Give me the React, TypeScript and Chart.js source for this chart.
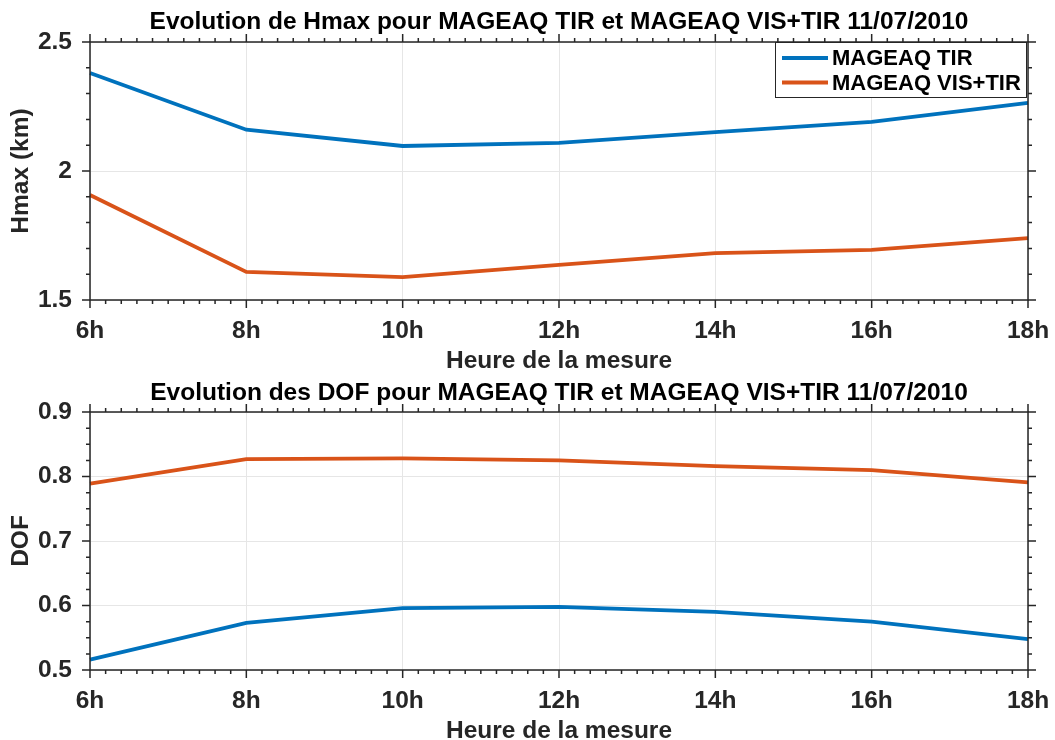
import React, { useEffect, useRef } from "react";
import { Chart, registerables } from "chart.js";

Chart.register(...registerables);

// ---- data ----
const hours = ["6h", "8h", "10h", "12h", "14h", "16h", "18h"];
const seriesLabels = ["MAGEAQ TIR", "MAGEAQ VIS+TIR"];
const hmaxTIR = [2.38, 2.16, 2.097, 2.109, 2.151, 2.19, 2.264];
const hmaxVisTir = [1.907, 1.609, 1.589, 1.636, 1.682, 1.694, 1.74];
const dofTIR = [0.516, 0.573, 0.596, 0.598, 0.59, 0.575, 0.548];
const dofVisTir = [0.789, 0.827, 0.828, 0.825, 0.816, 0.81, 0.791];
const titleTop = "Evolution de Hmax pour MAGEAQ TIR et MAGEAQ VIS+TIR 11/07/2010";
const titleBottom = "Evolution des DOF pour MAGEAQ TIR et MAGEAQ VIS+TIR 11/07/2010";
const xTitle = "Heure de la mesure";
const yTitleTop = "Hmax (km)";
const yTitleBottom = "DOF";

const BLUE = "#0072BD";
const ORANGE = "#D95319";
const AXIS = "#262626";
const FONT = "'Liberation Sans', Arial, Helvetica, sans-serif";

const frameTicks = {
  id: "frameTicks",
  afterDatasetsDraw(chart: any, _args: any, opts: any) {
    const { ctx, chartArea } = chart;
    const { left, right, top, bottom } = chartArea;
    const xs = chart.scales.x;
    const ys = chart.scales.y;
    ctx.save();
    ctx.strokeStyle = AXIS;
    ctx.lineWidth = 1.5;
    ctx.beginPath();
    ctx.rect(left, top, right - left, bottom - top);
    ctx.stroke();
    ctx.beginPath();
    const MAJ = 8;
    const MIN = 4;
    const n = xs.ticks.length;
    for (let i = 0; i < n; i++) {
      const p = xs.getPixelForTick(i);
      ctx.moveTo(p, bottom);
      ctx.lineTo(p, bottom + MAJ);
      ctx.moveTo(p, top);
      ctx.lineTo(p, top - MAJ);
      if (i < n - 1) {
        const q = xs.getPixelForTick(i + 1);
        const sub = opts.xSub || 10;
        for (let k = 1; k < sub; k++) {
          const m = p + ((q - p) * k) / sub;
          ctx.moveTo(m, bottom);
          ctx.lineTo(m, bottom + MIN);
          ctx.moveTo(m, top);
          ctx.lineTo(m, top - MIN);
        }
      }
    }
    const minStep = opts.yMinor;
    const majStep = opts.yMajor;
    const steps = Math.round((ys.max - ys.min) / minStep);
    for (let k = 0; k <= steps; k++) {
      const v = ys.min + k * minStep;
      const py = ys.getPixelForValue(v);
      const r = (v - ys.min) / majStep;
      const isMaj = Math.abs(r - Math.round(r)) < 1e-6;
      const len = isMaj ? MAJ : MIN;
      ctx.moveTo(left, py);
      ctx.lineTo(left - len, py);
      ctx.moveTo(right, py);
      ctx.lineTo(right + len, py);
    }
    ctx.stroke();
    ctx.restore();
  },
  afterDraw(chart: any, _args: any, opts: any) {
    if (!opts.legend) return;
    const { ctx, chartArea } = chart;
    const w = 252;
    const h = 56;
    const x = chartArea.right - 1 - w;
    const y = chartArea.top;
    ctx.save();
    ctx.fillStyle = "#ffffff";
    ctx.fillRect(x, y, w, h);
    ctx.strokeStyle = AXIS;
    ctx.lineWidth = 1;
    ctx.strokeRect(x + 0.5, y + 0.5, w - 1, h - 1);
    ctx.font = `bold 22px ${FONT}`;
    ctx.textBaseline = "middle";
    ctx.textAlign = "left";
    chart.data.datasets.forEach((ds: any, i: number) => {
      const cy = y + 16 + i * 24.5;
      ctx.strokeStyle = ds.borderColor;
      ctx.lineWidth = 3.8;
      ctx.beginPath();
      ctx.moveTo(x + 7, cy);
      ctx.lineTo(x + 53, cy);
      ctx.stroke();
      ctx.fillStyle = "#000000";
      ctx.fillText(ds.label, x + 57, cy + 1);
    });
    ctx.restore();
  },
};

function makeConfig(
  title: string,
  yTitle: string,
  a: number[],
  b: number[],
  yMin: number,
  yMax: number,
  yStep: number,
  yMinor: number,
  legend: boolean,
  titlePadTop: number
) {
  return {
    type: "line",
    data: {
      labels: hours,
      datasets: [
        {
          label: seriesLabels[0],
          data: a,
          borderColor: BLUE,
          backgroundColor: BLUE,
          borderWidth: 3.8,
          pointRadius: 0,
          tension: 0,
        },
        {
          label: seriesLabels[1],
          data: b,
          borderColor: ORANGE,
          backgroundColor: ORANGE,
          borderWidth: 3.8,
          pointRadius: 0,
          tension: 0,
        },
      ],
    },
    options: {
      responsive: false,
      animation: false,
      layout: { padding: { left: 0, right: 27, top: 0, bottom: 0 } },
      plugins: {
        legend: { display: false },
        tooltip: { enabled: false },
        title: {
          display: true,
          text: title,
          fullSize: false,
          color: "#000000",
          font: { family: FONT, size: 24.5, weight: "bold", lineHeight: 1.2 },
          padding: { top: titlePadTop, bottom: 12.6 - titlePadTop },
        },
        frameTicks: { xSub: 10, yMinor, yMajor: yStep, legend },
      },
      scales: {
        x: {
          type: "category",
          offset: false,
          grid: { display: true, color: "#e6e6e6", lineWidth: 1, drawTicks: false, offset: false },
          border: { display: false },
          ticks: {
            color: AXIS,
            padding: 17,
            maxRotation: 0,
            autoSkip: false,
            font: { family: FONT, size: 24.5, weight: "bold" },
          },
          title: {
            display: true,
            text: xTitle,
            color: AXIS,
            font: { family: FONT, size: 24.5, weight: "bold", lineHeight: 0.75 },
            padding: { top: 0, bottom: 0 },
          },
          afterFit: (s: any) => {
            s.height = 70;
            s.paddingRight = 0;
            s.paddingLeft = 0;
          },
        },
        y: {
          type: "linear",
          min: yMin,
          max: yMax,
          grid: { display: true, color: "#e6e6e6", lineWidth: 1, drawTicks: false },
          border: { display: false },
          ticks: {
            stepSize: yStep,
            color: AXIS,
            padding: 18,
            font: { family: FONT, size: 24.5, weight: "bold" },
            callback: (v: any) => String(Number(Number(v).toFixed(3))),
          },
          title: {
            display: true,
            text: yTitle,
            color: AXIS,
            font: { family: FONT, size: 24.5, weight: "bold", lineHeight: 0.75 },
            padding: { top: 12, bottom: 0 },
          },
          afterFit: (s: any) => {
            s.width = 90;
            s.paddingTop = 0;
            s.paddingBottom = 0;
          },
        },
      },
    },
    plugins: [frameTicks],
  } as any;
}

function Panel(props: { config: any }) {
  const ref = useRef<HTMLCanvasElement | null>(null);
  useEffect(() => {
    if (!ref.current) return;
    const chart = new Chart(ref.current, props.config);
    return () => chart.destroy();
  }, []);
  return <canvas ref={ref} width={1055} height={370} style={{ display: "block" }} />;
}

export default function App() {
  const topCfg = makeConfig(titleTop, yTitleTop, hmaxTIR, hmaxVisTir, 1.5, 2.5, 0.5, 0.1, true, 7.5);
  const botCfg = makeConfig(titleBottom, yTitleBottom, dofTIR, dofVisTir, 0.5, 0.9, 0.1, 0.025, false, 8.5);
  return (
    <div style={{ position: "absolute", left: 0, top: 0, width: 1055, height: 740, background: "#ffffff" }}>
      <Panel config={topCfg} />
      <Panel config={botCfg} />
    </div>
  );
}
